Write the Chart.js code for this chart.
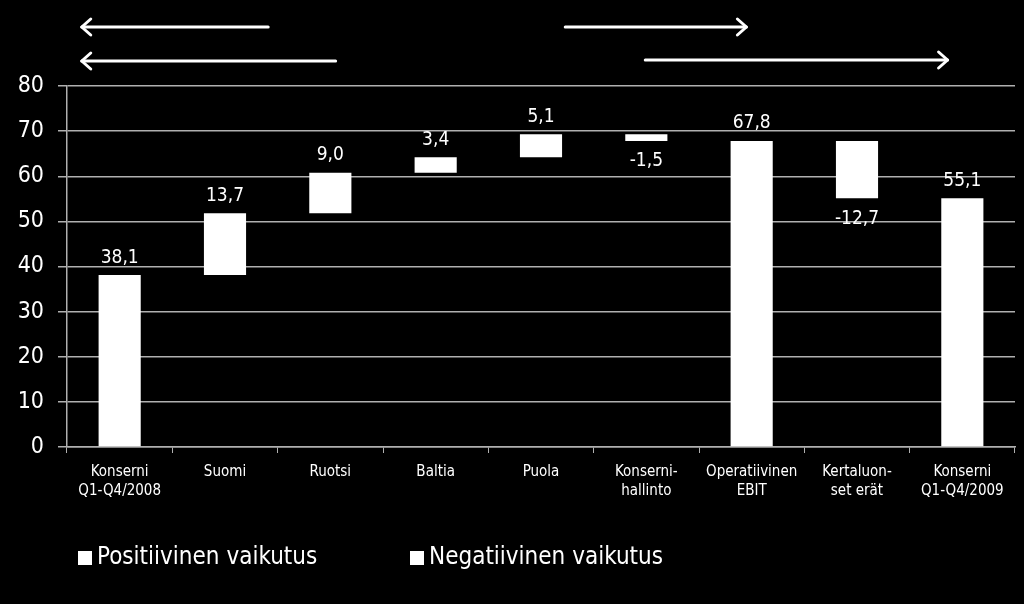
<!DOCTYPE html>
<html>
<head>
<meta charset="utf-8">
<script src="https://cdn.jsdelivr.net/npm/chart.js@4.4.0/dist/chart.umd.min.js"></script>
<style>
html,body{margin:0;padding:0;background:#000;}
#wrap{width:1024px;height:604px;position:relative;}
</style>
</head>
<body>
<div id="wrap"><canvas id="c" width="1024" height="604"></canvas></div>
<script>
const categories = [["Konserni","Q1-Q4/2008"],"Suomi","Ruotsi","Baltia","Puola",["Konserni-","hallinto"],["Operatiivinen","EBIT"],["Kertaluon-","set erät"],["Konserni","Q1-Q4/2009"]];
const changes = [38.1, 13.7, 9.0, 3.4, 5.1, -1.5, 67.8, -12.7, 55.1];
const isTotal = [true, false, false, false, false, false, true, false, true];
const seriesNames = ["Positiivinen vaikutus", "Negatiivinen vaikutus"];
const yTicks = [0, 10, 20, 30, 40, 50, 60, 70, 80];

// waterfall floating ranges built from the changes
const positive = [], negative = [];
let running = 0;
changes.forEach((v, i) => {
  if (isTotal[i]) {
    positive.push([0, v]); negative.push(null); running = v;
  } else if (v >= 0) {
    const end = +(running + v).toFixed(1);
    positive.push([running, end]); negative.push(null); running = end;
  } else {
    const end = +(running + v).toFixed(1);
    negative.push([end, running]); positive.push(null); running = end;
  }
});

// arrow annotations: [tail index, head index, offset above chart top]
const arrows = [
  [1.41, -0.36, 59],
  [2.05, -0.36, 25],
  [4.23, 5.95, 59],
  [4.99, 7.86, 26]
];
// legend item layout (x of box, y of centre)
const legendPos = [[78, 558], [410, 558]];

const fmt = v => (v < 0 ? '-' : '') + Math.abs(v).toFixed(1).replace('.', ',');
const FONT = '"DejaVu Sans Condensed", "DejaVu Sans", sans-serif';

const labelPlugin = {
  id: 'wfLabels',
  afterDatasetsDraw(chart) {
    const ctx = chart.ctx;
    const y = chart.scales.y, x = chart.scales.x;
    ctx.save();
    ctx.fillStyle = '#fff';
    ctx.font = '19px ' + FONT;
    ctx.textAlign = 'center';
    changes.forEach((v, i) => {
      const cx = x.getPixelForValue(i);
      const r = positive[i] || negative[i];
      if (v >= 0) {
        ctx.textBaseline = 'bottom';
        ctx.fillText(fmt(v), cx, y.getPixelForValue(r[1]) - 8);
      } else {
        ctx.textBaseline = 'top';
        ctx.fillText(fmt(v), cx, y.getPixelForValue(r[0]) + 11);
      }
    });
    // arrows
    ctx.strokeStyle = '#fff';
    ctx.lineWidth = 3;
    ctx.lineCap = 'round';
    ctx.lineJoin = 'round';
    arrows.forEach(a => {
      const x0 = x.getPixelForValue(a[0]), x1 = x.getPixelForValue(a[1]);
      const yy = chart.chartArea.top - a[2];
      const dir = x1 > x0 ? 1 : -1;
      ctx.beginPath();
      ctx.moveTo(x0, yy); ctx.lineTo(x1, yy);
      ctx.stroke();
      ctx.beginPath();
      ctx.moveTo(x1 - dir * 9, yy - 8); ctx.lineTo(x1, yy); ctx.lineTo(x1 - dir * 9, yy + 8);
      ctx.stroke();
    });
    // legend
    ctx.font = '24px ' + FONT;
    ctx.textAlign = 'left';
    ctx.textBaseline = 'middle';
    chart.data.datasets.forEach((ds, i) => {
      const [lx, ly] = legendPos[i];
      ctx.fillStyle = ds.backgroundColor;
      ctx.fillRect(lx, ly - 7, 14, 14);
      ctx.fillStyle = '#fff';
      ctx.fillText(ds.label, lx + 19, ly);
    });
    ctx.restore();
  }
};

Chart.defaults.font.family = FONT;
Chart.defaults.color = '#fff';

new Chart(document.getElementById('c'), {
  type: 'bar',
  data: {
    labels: categories,
    datasets: [
      { label: seriesNames[0], data: positive, backgroundColor: '#fff', borderWidth: 0, grouped: false, barPercentage: 0.4, categoryPercentage: 1 },
      { label: seriesNames[1], data: negative, backgroundColor: '#fff', borderWidth: 0, grouped: false, barPercentage: 0.4, categoryPercentage: 1 }
    ]
  },
  options: {
    responsive: false,
    animation: false,
    layout: { padding: { top: 86, right: 9, left: 0, bottom: 94 } },
    plugins: {
      tooltip: { enabled: false },
      legend: { display: false }
    },
    scales: {
      y: {
        min: 0, max: 80,
        afterBuildTicks: s => { s.ticks = yTicks.map(v => ({ value: v })); },
        afterFit: s => { s.width = 67; },
        ticks: { color: '#fff', font: { size: 23 }, padding: 14 },
        grid: { color: '#b0b0b0', lineWidth: 1.5, tickLength: 9 },
        border: { color: '#b0b0b0', width: 1.5 }
      },
      x: {
        ticks: { color: '#fff', font: { size: 15, lineHeight: 1.3 }, padding: 9, maxRotation: 0, autoSkip: false },
        grid: { color: '#b0b0b0', drawOnChartArea: false, offset: true, tickLength: 6 },
        border: { color: '#b0b0b0', width: 1.5 }
      }
    }
  },
  plugins: [labelPlugin]
});
</script>
</body>
</html>
